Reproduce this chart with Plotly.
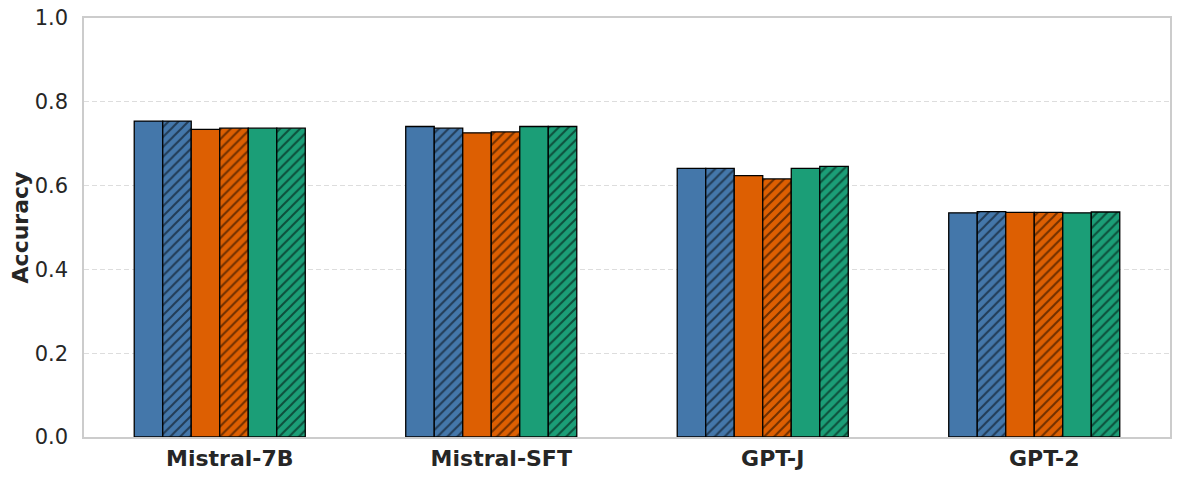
import plotly.graph_objects as go

models = ["Mistral-7B", "Mistral-SFT", "GPT-J", "GPT-2"]
series_names = ["Blue", "Blue (hatched)", "Orange", "Orange (hatched)", "Green", "Green (hatched)"]
blue_solid = [0.754, 0.741, 0.641, 0.535]
blue_hatch = [0.754, 0.737, 0.641, 0.538]
orange_solid = [0.734, 0.726, 0.624, 0.536]
orange_hatch = [0.737, 0.728, 0.616, 0.536]
green_solid = [0.737, 0.741, 0.641, 0.535]
green_hatch = [0.737, 0.741, 0.646, 0.537]

values = [blue_solid, blue_hatch, orange_solid, orange_hatch, green_solid, green_hatch]
colors = ["#4477AA", "#4477AA", "#DD5F02", "#DD5F02", "#1B9E77", "#1B9E77"]
hatched = [False, True, False, True, False, True]

fig = go.Figure()
for name, vals, col, h in zip(series_names, values, colors, hatched):
    fig.add_trace(go.Bar(
        x=models, y=vals, name=name,
        marker=dict(
            color=col,
            line=dict(color="black", width=1.3),
            pattern=dict(shape="/" if h else "", fgcolor="black", bgcolor=col,
                         size=7, solidity=0.28, fillmode="overlay"),
        ),
        showlegend=False,
    ))

fig.update_layout(
    width=1180, height=480,
    margin=dict(l=76, r=18, t=10, b=51),
    barmode="group", bargap=0.37, bargroupgap=0,
    plot_bgcolor="white", paper_bgcolor="white",
    font=dict(family="DejaVu Sans", size=21, color="#262626"),
)
fig.update_xaxes(
    showgrid=False, showline=True, linecolor="#cccccc", linewidth=1.5, mirror=True,
    tickfont=dict(family="DejaVu Sans", size=22, color="#262626", weight="bold"),
    ticks="", range=[-0.5, 3.5], ticklabelstandoff=1, ticklabelshift=10,
    automargin=False, ticklabeloverflow="allow",
)
fig.update_yaxes(
    range=[0, 1.0], dtick=0.2, tickformat=".1f",
    showgrid=True, gridcolor="#dddddd", griddash="5px,3px", gridwidth=1,
    showline=True, linecolor="#cccccc", linewidth=1.5, mirror=True,
    zeroline=False, ticks="", ticklabelstandoff=10, automargin=False,
    ticklabeloverflow="allow",
    tickfont=dict(family="DejaVu Sans", size=21, color="#262626"),
    title=dict(text="<b>Accuracy</b>", font=dict(family="DejaVu Sans", size=22, color="#262626"), standoff=15),
)

fig.write_html("out.html")
